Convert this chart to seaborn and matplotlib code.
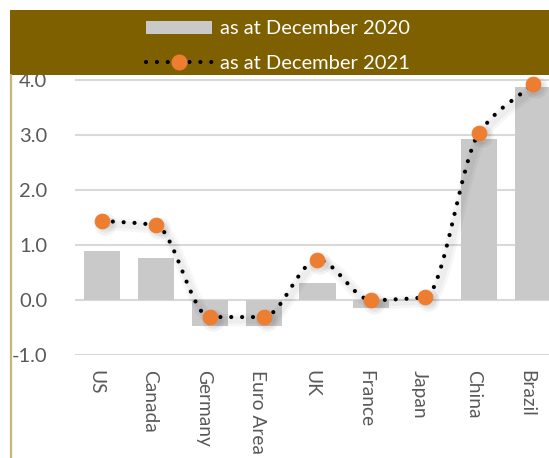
import numpy as np
import pandas as pd
import matplotlib
matplotlib.use("Agg")
import matplotlib.pyplot as plt
import matplotlib.transforms as mtrans
from matplotlib.path import Path
from matplotlib.patches import PathPatch, Rectangle, Patch
from matplotlib.lines import Line2D
import seaborn as sns

# Data
countries = ["US", "Canada", "Germany", "Euro Area", "UK", "France", "Japan", "China", "Brazil"]
dec_2020 = [0.90, 0.76, -0.48, -0.48, 0.31, -0.15, 0.0, 2.93, 3.87]
dec_2021 = [1.44, 1.36, -0.31, -0.31, 0.73, 0.0, 0.05, 3.04, 3.93]
y_ticks = [-1.0, 0.0, 1.0, 2.0, 3.0, 4.0]
series_labels = ["as at December 2020", "as at December 2021"]

BAR = "#C9C9C9"
ORANGE = "#ED7D31"
HEADER = "#7F6000"
TEXT = "#595959"

sns.set_theme(style="white")
plt.rcParams["font.family"] = ["Lato", "DejaVu Sans"]
plt.rcParams["axes.unicode_minus"] = False

W, H = 549, 458
fig = plt.figure(figsize=(W / 100, H / 100), dpi=100)
fig.patch.set_facecolor("white")
ax = fig.add_axes([75 / W, 1 - 355 / H, (560 - 75) / W, (355 - 74.5) / H])

df = pd.DataFrame({"country": countries, "v2020": dec_2020, "v2021": dec_2021})
sns.barplot(data=df, x="country", y="v2020", color=BAR, saturation=1,
            width=0.67, linewidth=0, ax=ax, zorder=2)

ax.set_xlim(-0.5, len(countries) - 0.5)
ax.set_ylim(-1.0, 4.1)
ax.set_yticks(y_ticks)
ax.set_yticklabels([f"{t:.1f}" for t in y_ticks])
ax.yaxis.grid(True, color="#D9D9D9", lw=1.5)
ax.xaxis.grid(False)
ax.set_axisbelow(True)
for s in ax.spines.values():
    s.set_visible(False)
ax.set_xlabel("")
ax.set_ylabel("")
ax.tick_params(axis="y", length=0, pad=20, labelsize=14.5, labelcolor=TEXT)
ax.tick_params(axis="x", length=0, pad=11, labelsize=13.8, labelcolor=TEXT)
for lab in ax.get_xticklabels():
    lab.set_rotation(-90)
    lab.set_ha("center")
    lab.set_va("top")
    lab.set_transform(lab.get_transform() + mtrans.Affine2D().translate(-6, 0))

# Smoothed 2021 line: monotone cubic Hermite segments expressed as Beziers
xs = np.arange(len(countries), dtype=float)
ys = np.array(dec_2021, dtype=float)
n = len(xs)
h = np.diff(xs)
delta = np.diff(ys) / h
m = np.zeros(n)
m[0], m[-1] = delta[0], delta[-1]
for i in range(1, n - 1):
    if delta[i - 1] * delta[i] > 0:
        w1 = 2 * h[i] + h[i - 1]
        w2 = h[i] + 2 * h[i - 1]
        m[i] = (w1 + w2) / (w1 / delta[i - 1] + w2 / delta[i])
verts = [(xs[0], ys[0])]
codes = [Path.MOVETO]
for i in range(n - 1):
    d = h[i] / 3.0
    verts += [(xs[i] + d, ys[i] + m[i] * d),
              (xs[i + 1] - d, ys[i + 1] - m[i + 1] * d),
              (xs[i + 1], ys[i + 1])]
    codes += [Path.CURVE4] * 3
curve = Path(verts, codes)

# soft drop shadow
shadow_tr = mtrans.offset_copy(ax.transData, fig=fig, x=3, y=-3, units="dots")
for lw in (9, 5):
    ax.add_patch(PathPatch(curve, fill=False, edgecolor="black", lw=lw, alpha=0.035,
                           capstyle="round", joinstyle="round", transform=shadow_tr, zorder=3))
for ms in (16, 12):
    ax.plot(xs, ys, ls="none", marker="o", ms=ms, mfc="black", mec="none",
            alpha=0.05, transform=shadow_tr, zorder=3)

ax.add_patch(PathPatch(curve, fill=False, edgecolor="black", lw=3.0,
                       linestyle=(0, (0.01, 2.6)), capstyle="round", zorder=4))
ax.plot(xs, ys, ls="none", marker="o", ms=10.5, mfc=ORANGE, mec=ORANGE,
        mew=0.8, zorder=5, clip_on=False)

# Header band with legend
fig.add_artist(Rectangle((10 / W, 1 - 75 / H), (W - 10) / W, 65 / H,
                         transform=fig.transFigure, facecolor=HEADER,
                         edgecolor="none", zorder=10))
fig.add_artist(Line2D([10.5 / W, 10.5 / W], [0, 1 - 75 / H], transform=fig.transFigure,
                      color="#C7B57B", lw=1.6, zorder=10))

handles = [
    Patch(facecolor=BAR, edgecolor="none"),
    Line2D([], [], color="black", lw=3.0, ls=(0, (0.01, 2.6)), dash_capstyle="round",
           marker="o", ms=10.5, mfc=ORANGE, mec=ORANGE),
]
leg = fig.legend(handles, series_labels, loc="center", bbox_to_anchor=(278 / W, 1 - 46 / H),
                 frameon=False, fontsize=14.5, labelcolor="white", handlelength=3.3,
                 handleheight=0.65, handletextpad=0.4, labelspacing=0.85, borderpad=0,
                 numpoints=1)
leg.set_zorder(11)

fig.savefig("out.png", dpi=100)
